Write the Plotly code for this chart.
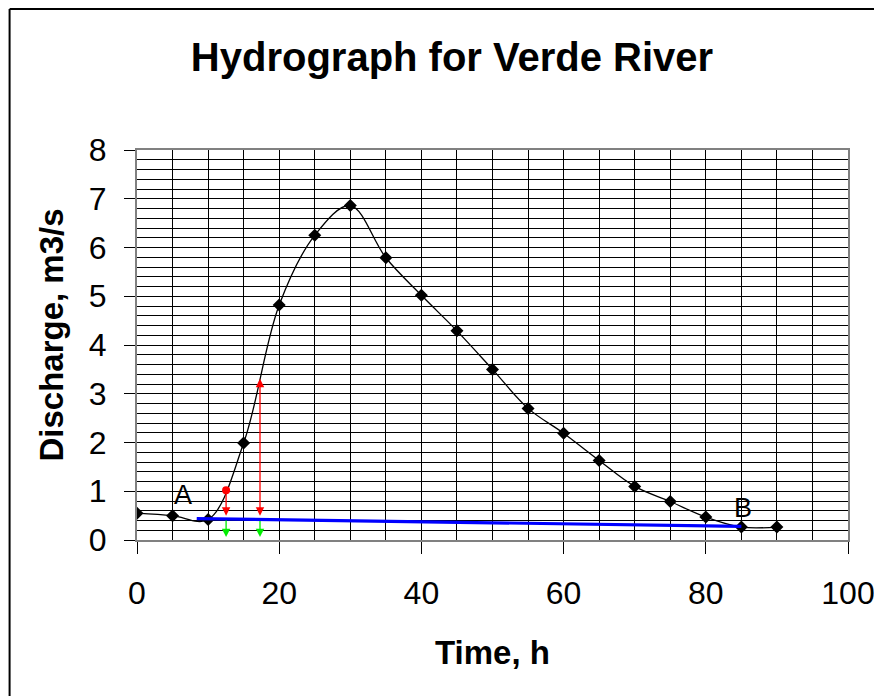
import plotly.graph_objects as go

# ---- data ----
time_h = [0, 5, 10, 15, 20, 25, 30, 35, 40, 45, 50, 55, 60, 65, 70, 75, 80, 85, 90]
discharge = [0.55, 0.50, 0.42, 1.99, 4.82, 6.25, 6.86, 5.79, 5.02, 4.29, 3.50,
             2.70, 2.19, 1.63, 1.10, 0.79, 0.47, 0.265, 0.265]

baseflow_x = [8.4, 85.0]
baseflow_y = [0.44, 0.28]

arrow_x = [12.53, 17.3]
arrow_top = [1.02, 3.34]
arrow_base = [0.50, 0.50]
green_from = [0.43, 0.42]
green_to = [0.06, 0.06]

point_labels = ["A", "B"]
label_x = [6.45, 85.2]
label_y = [0.93, 0.66]

x_ticks = [0, 20, 40, 60, 80, 100]
y_ticks = [0, 1, 2, 3, 4, 5, 6, 7, 8]

FONT = "Liberation Sans, Arial, sans-serif"
OFF = 8  # page body margin
W, H = 882 - OFF, 696 - OFF
L, R, T, B = 136.5 - OFF, 848.0 - OFF, 150.0 - OFF, 540.0 - OFF


def px_x(px):
    return (px - OFF - L) / (R - L)


def px_y(py):
    return (B - (py - OFF)) / (B - T)


fig = go.Figure()

fig.add_trace(go.Scatter(
    x=time_h, y=discharge, mode="lines+markers",
    line=dict(color="black", width=1.3, shape="spline", smoothing=1.0),
    marker=dict(symbol="diamond", size=10, color="black"),
    showlegend=False, hoverinfo="x+y"))

fig.add_trace(go.Scatter(
    x=baseflow_x, y=baseflow_y, mode="lines",
    line=dict(color="#0000FF", width=3.2),
    showlegend=False))

fig.add_trace(go.Scatter(
    x=[arrow_x[0]], y=[arrow_top[0]], mode="markers",
    marker=dict(symbol="circle", size=8, color="#FF0000"),
    showlegend=False))

annotations = []
for i, xv in enumerate(arrow_x):
    annotations.append(dict(
        x=xv, y=arrow_base[i], ax=xv, ay=arrow_top[i],
        xref="x", yref="y", axref="x", ayref="y",
        text="", showarrow=True, arrowhead=2, arrowsize=1.3, arrowwidth=1.3,
        arrowcolor="#FF0000",
        arrowside="end+start" if i == 1 else "end"))
    annotations.append(dict(
        x=xv, y=green_to[i], ax=xv, ay=green_from[i],
        xref="x", yref="y", axref="x", ayref="y",
        text="", showarrow=True, arrowhead=2, arrowsize=1.3, arrowwidth=1.3,
        arrowcolor="#00EE00"))

for t, xv, yv in zip(point_labels, label_x, label_y):
    annotations.append(dict(
        x=xv, y=yv, xref="x", yref="y", text=t, showarrow=False,
        font=dict(family=FONT, size=27, color="black"),
        xanchor="center", yanchor="middle"))

annotations.append(dict(
    x=px_x(492), y=px_y(652), xref="paper", yref="paper",
    text="<b>Time, h</b>", showarrow=False,
    font=dict(family=FONT, size=33, color="black"),
    xanchor="center", yanchor="middle"))
annotations.append(dict(
    x=px_x(50), y=px_y(335), xref="paper", yref="paper",
    text="<b>Discharge, m3/s</b>", showarrow=False, textangle=-90,
    font=dict(family=FONT, size=33, color="black"),
    xanchor="center", yanchor="middle"))

shapes = [
    dict(type="line", xref="paper", yref="paper",
         x0=px_x(9), x1=px_x(9), y0=px_y(9), y1=px_y(720),
         line=dict(color="black", width=2)),
    dict(type="line", xref="paper", yref="paper",
         x0=px_x(9), x1=px_x(900), y0=px_y(9), y1=px_y(9),
         line=dict(color="black", width=2)),
]

fig.update_layout(
    width=W, height=H,
    margin=dict(l=L, r=W - R, t=T, b=H - B, pad=0, autoexpand=False),
    paper_bgcolor="white", plot_bgcolor="white",
    font=dict(family=FONT, color="black"),
    title=dict(text="<b>Hydrograph for Verde River</b>",
               font=dict(family=FONT, size=40, color="black"),
               xref="container", yref="container",
               x=(452 - OFF) / W, y=1 - (57 - OFF) / H,
               xanchor="center", yanchor="middle", automargin=False),
    annotations=annotations,
    shapes=shapes,
    showlegend=False,
)

fig.update_xaxes(
    range=[0, 100], tickvals=x_ticks, ticktext=[str(v) for v in x_ticks],
    showgrid=True, gridcolor="black", gridwidth=1,
    minor=dict(dtick=5, showgrid=True, gridcolor="black", gridwidth=1),
    showline=True, linecolor="#808080", linewidth=2, mirror=True,
    ticks="outside", ticklen=12, tickcolor="black", tickwidth=1,
    tickfont=dict(family=FONT, size=32, color="black"),
    ticklabelstandoff=12, zeroline=False, automargin=False)

fig.update_yaxes(
    range=[0, 8], tickvals=y_ticks, ticktext=[str(v) for v in y_ticks],
    showgrid=True, gridcolor="black", gridwidth=1,
    minor=dict(dtick=0.2, showgrid=True, gridcolor="black", gridwidth=1),
    showline=True, linecolor="#808080", linewidth=2, mirror=True,
    ticks="outside", ticklen=11, tickcolor="black", tickwidth=1,
    tickfont=dict(family=FONT, size=32, color="black"),
    ticklabelstandoff=11, zeroline=False, automargin=False)

fig.write_html("out.html")
